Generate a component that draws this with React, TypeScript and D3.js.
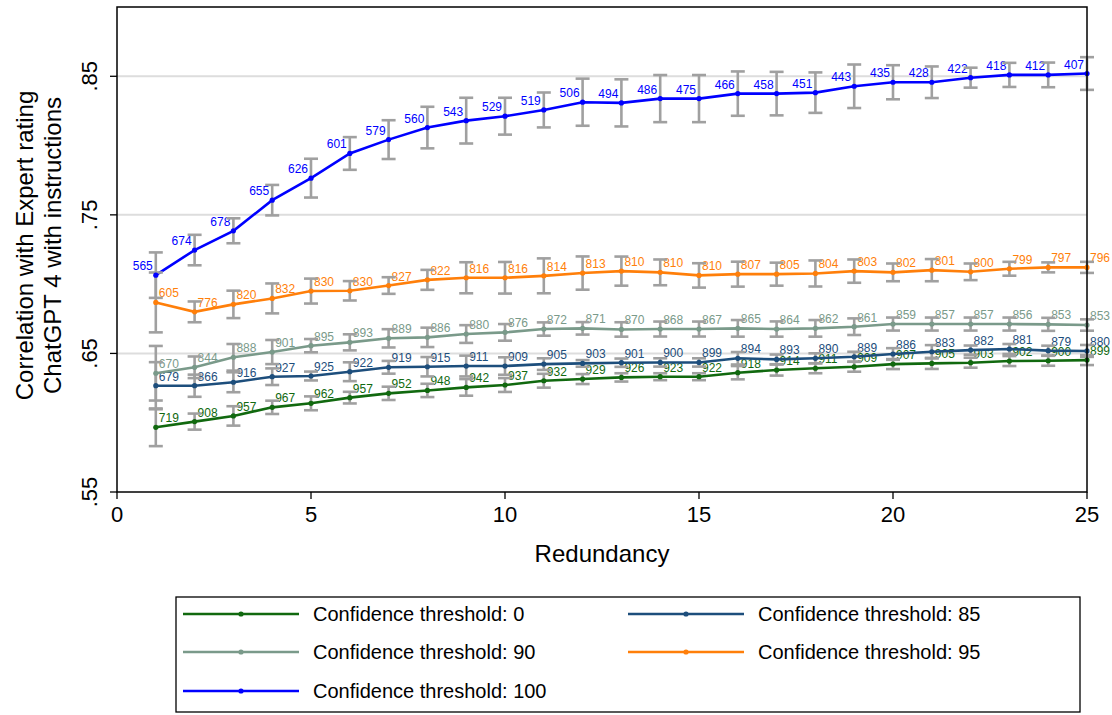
import React from "react";
import * as d3 from "d3";

const width = 1112;
const height = 715;
const margin = { top: 7, right: 25, bottom: 223, left: 117 };

// redundancy levels (x)
const redundancy = [1, 2, 3, 4, 5, 6, 7, 8, 9, 10, 11, 12, 13, 14, 15, 16, 17, 18, 19, 20, 21, 22, 23, 24, 25];
const yTicks = [0.55, 0.65, 0.75, 0.85];
const xTicks = [0, 5, 10, 15, 20, 25];

// mean correlation per threshold
const t0 = [0.5967, 0.6008, 0.6049, 0.6111, 0.614, 0.6181, 0.6212, 0.6233, 0.6255, 0.6272, 0.6303, 0.6315, 0.6327, 0.6332, 0.6332, 0.6361, 0.638, 0.6393, 0.6404, 0.6423, 0.6428, 0.6433, 0.6445, 0.6447, 0.6452];
const t85 = [0.6267, 0.6267, 0.6292, 0.6332, 0.6337, 0.6368, 0.64, 0.6404, 0.6409, 0.6409, 0.6423, 0.6428, 0.6433, 0.6435, 0.6435, 0.6465, 0.6457, 0.6465, 0.6476, 0.6496, 0.6512, 0.6524, 0.6532, 0.652, 0.6518];
const t90 = [0.6357, 0.64, 0.6472, 0.651, 0.6556, 0.658, 0.6609, 0.6616, 0.664, 0.6652, 0.6676, 0.6681, 0.6673, 0.6676, 0.6676, 0.6681, 0.6676, 0.6681, 0.6693, 0.6712, 0.6712, 0.6712, 0.6712, 0.671, 0.6705];
const t95 = [0.6868, 0.68, 0.6854, 0.6897, 0.695, 0.6952, 0.699, 0.7031, 0.7046, 0.7046, 0.706, 0.708, 0.7094, 0.7085, 0.7063, 0.7072, 0.7072, 0.7077, 0.7094, 0.7085, 0.7101, 0.7089, 0.7111, 0.7121, 0.7121];
const t100 = [0.7065, 0.7246, 0.7385, 0.7606, 0.7765, 0.7943, 0.8043, 0.813, 0.818, 0.8212, 0.8257, 0.8313, 0.8308, 0.8339, 0.8339, 0.8375, 0.8375, 0.8382, 0.8428, 0.8457, 0.8457, 0.849, 0.851, 0.851, 0.852];

// half-width of confidence intervals
const ci0 = [0.0136, 0.0058, 0.007, 0.0048, 0.005, 0.0042, 0.0048, 0.0048, 0.006, 0.005, 0.005, 0.0036, 0.003, 0.0025, 0.0025, 0.0048, 0.004, 0.0036, 0.0036, 0.0036, 0.004, 0.0036, 0.0036, 0.0036, 0.0036];
const ci85 = [0.017, 0.008, 0.0072, 0.006, 0.0032, 0.0068, 0.0046, 0.007, 0.0075, 0.0063, 0.0042, 0.0024, 0.003, 0.003, 0.003, 0.0045, 0.0035, 0.0036, 0.0036, 0.0042, 0.0048, 0.0033, 0.0036, 0.0036, 0.0043];
const ci90 = [0.0197, 0.0078, 0.0096, 0.0087, 0.0048, 0.0058, 0.0066, 0.007, 0.0064, 0.006, 0.0048, 0.0045, 0.0052, 0.0054, 0.0054, 0.006, 0.0055, 0.006, 0.006, 0.0047, 0.0047, 0.0047, 0.0047, 0.0047, 0.0041];
const ci95 = [0.0216, 0.0075, 0.0099, 0.0108, 0.009, 0.007, 0.006, 0.0072, 0.0112, 0.0114, 0.0126, 0.012, 0.0105, 0.0093, 0.0088, 0.009, 0.0083, 0.0094, 0.0084, 0.0064, 0.008, 0.006, 0.005, 0.0036, 0.004];
const ci100 = [0.0164, 0.011, 0.009, 0.011, 0.014, 0.0118, 0.014, 0.015, 0.0165, 0.0133, 0.0126, 0.017, 0.017, 0.017, 0.017, 0.016, 0.0157, 0.0146, 0.0157, 0.0123, 0.0114, 0.0072, 0.0087, 0.0089, 0.0118];

// number of items behind each point
const n0 = [719, 908, 957, 967, 962, 957, 952, 948, 942, 937, 932, 929, 926, 923, 922, 918, 914, 911, 909, 907, 905, 903, 902, 900, 899];
const n85 = [679, 866, 916, 927, 925, 922, 919, 915, 911, 909, 905, 903, 901, 900, 899, 894, 893, 890, 889, 886, 883, 882, 881, 879, 880];
const n90 = [670, 844, 888, 901, 895, 893, 889, 886, 880, 876, 872, 871, 870, 868, 867, 865, 864, 862, 861, 859, 857, 857, 856, 853, 853];
const n95 = [605, 776, 820, 832, 830, 830, 827, 822, 816, 816, 814, 813, 810, 810, 810, 807, 805, 804, 803, 802, 801, 800, 799, 797, 796];
const n100 = [565, 674, 678, 655, 626, 601, 579, 560, 543, 529, 519, 506, 494, 486, 475, 466, 458, 451, 443, 435, 428, 422, 418, 412, 407];

const series = [
  { name: "Confidence threshold: 0", color: "#11690f", mean: t0, ci: ci0, n: n0, left: false },
  { name: "Confidence threshold: 85", color: "#1d4e7c", mean: t85, ci: ci85, n: n85, left: false },
  { name: "Confidence threshold: 90", color: "#7a9a8a", mean: t90, ci: ci90, n: n90, left: false },
  { name: "Confidence threshold: 95", color: "#ff7f0a", mean: t95, ci: ci95, n: n95, left: false },
  { name: "Confidence threshold: 100", color: "#0000ff", mean: t100, ci: ci100, n: n100, left: true },
];

const font = "'Liberation Sans', Arial, Helvetica, sans-serif";

export default function App() {
  const x = d3.scaleLinear().domain([0, 25]).range([margin.left, width - margin.right]);
  const y = d3.scaleLinear().domain([0.55, 0.9]).range([height - margin.bottom, margin.top]);
  const line = d3
    .line<number>()
    .x((d, i) => x(redundancy[i]))
    .y((d) => y(d));

  const x0 = x.range()[0], x1 = x.range()[1];
  const y0 = y.range()[0], y1 = y.range()[1];
  const cap = 7;

  // legend layout: two columns, row-major
  const legendRows = [614, 652, 691];
  const legendCols = [183, 628];

  return (
    <div style={{ position: "absolute", left: 0, top: 0 }}>
      <svg width={width} height={height} style={{ fontFamily: font, display: "block", background: "#fff" }}>
        {/* gridlines */}
        {yTicks.slice(1).map((t) => (
          <line key={t} x1={x0} x2={x1} y1={y(t)} y2={y(t)} stroke="#dddddd" strokeWidth={2} />
        ))}

        {/* lines + labels */}
        {series.map((s) => (
          <g key={s.name}>
            <path d={line(s.mean) || ""} fill="none" stroke={s.color} strokeWidth={2.6} />
            {s.mean.map((v, i) => (
              <text
                key={i}
                x={x(redundancy[i]) + (s.left ? -3 : 3)}
                y={y(v) - 5}
                fontSize={12}
                fill={s.color}
                textAnchor={s.left ? "end" : "start"}
              >
                {s.n[i]}
              </text>
            ))}
          </g>
        ))}

        {/* error bars */}
        {series.map((s) => (
          <g key={s.name + "ci"} stroke="#a0a0a0" strokeWidth={2.6}>
            {s.mean.map((v, i) => {
              const cx = x(redundancy[i]);
              const hi = y(v + s.ci[i]);
              const lo = y(v - s.ci[i]);
              return (
                <g key={i}>
                  <line x1={cx} x2={cx} y1={hi} y2={lo} />
                  <line x1={cx - cap} x2={cx + cap} y1={hi} y2={hi} />
                  <line x1={cx - cap} x2={cx + cap} y1={lo} y2={lo} />
                </g>
              );
            })}
          </g>
        ))}

        {/* markers */}
        {series.map((s) => (
          <g key={s.name + "m"} fill={s.color}>
            {s.mean.map((v, i) => (
              <circle key={i} cx={x(redundancy[i])} cy={y(v)} r={2.6} />
            ))}
          </g>
        ))}

        {/* frame */}
        <rect x={x0} y={y1} width={x1 - x0} height={y0 - y1} fill="none" stroke="#000" strokeWidth={1.5} />

        {/* y axis */}
        {yTicks.map((t) => (
          <g key={t}>
            <line x1={x0 - 7} x2={x0} y1={y(t)} y2={y(t)} stroke="#000" strokeWidth={1.3} />
            <text
              transform={`translate(${89},${y(t)}) rotate(-90)`}
              textAnchor="middle"
              dominantBaseline="central"
              fontSize={22}
            >
              {d3.format(".2f")(t).replace(/^0/, "")}
            </text>
          </g>
        ))}
        <text transform={`translate(24,${(y0 + y1) / 2 - 4}) rotate(-90)`} textAnchor="middle" dominantBaseline="central" fontSize={24}>
          Correlation with Expert rating
        </text>
        <text transform={`translate(52,${(y0 + y1) / 2 - 4}) rotate(-90)`} textAnchor="middle" dominantBaseline="central" fontSize={24}>
          ChatGPT 4 with instructions
        </text>

        {/* x axis */}
        {xTicks.map((t) => (
          <g key={t}>
            <line x1={x(t)} x2={x(t)} y1={y0} y2={y0 + 7} stroke="#000" strokeWidth={1.3} />
            <text x={x(t)} y={y0 + 30} textAnchor="middle" fontSize={22}>
              {t}
            </text>
          </g>
        ))}
        <text x={(x0 + x1) / 2} y={y0 + 70} textAnchor="middle" fontSize={24}>
          Redundancy
        </text>

        {/* legend */}
        <rect x={176} y={597} width={904} height={115} fill="none" stroke="#000" strokeWidth={1.3} />
        {series.map((s, i) => {
          const lx = legendCols[i % 2];
          const ly = legendRows[Math.floor(i / 2)];
          return (
            <g key={s.name + "lg"}>
              <line x1={lx} x2={lx + 116} y1={ly} y2={ly} stroke={s.color} strokeWidth={2.6} />
              <circle cx={lx + 58} cy={ly} r={2.6} fill={s.color} />
              <text x={lx + 130} y={ly} dominantBaseline="central" fontSize={20}>
                {s.name}
              </text>
            </g>
          );
        })}
      </svg>
    </div>
  );
}
